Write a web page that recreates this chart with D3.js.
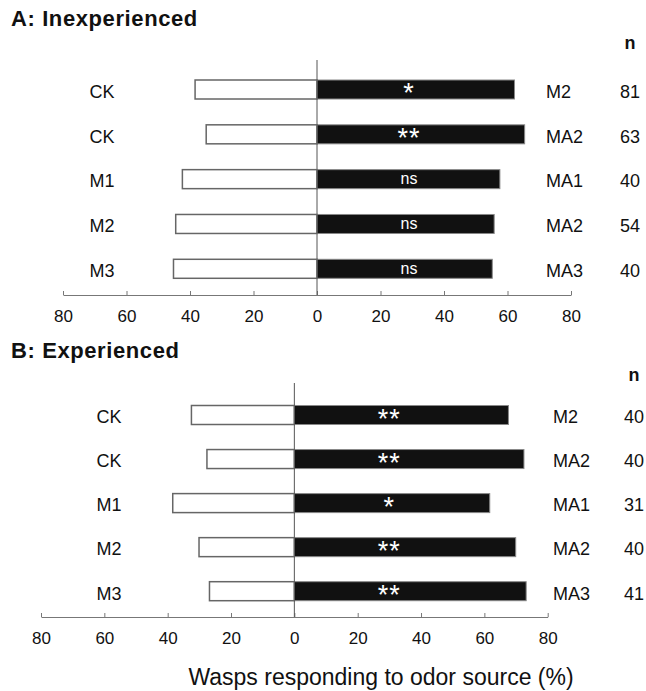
<!DOCTYPE html>
<html>
<head>
<meta charset="utf-8">
<script src="https://cdn.jsdelivr.net/npm/d3@7"></script>
<style>
  body { margin: 0; background: #fff; }
  text { font-family: "Liberation Sans", Arial, sans-serif; fill: #111; }
</style>
</head>
<body>
<script>
// Data (percent of wasps choosing each odor source)
const ticks = [-80, -60, -40, -20, 0, 20, 40, 60, 80];

const leftLabelsA = ['CK', 'CK', 'M1', 'M2', 'M3'];
const rightLabelsA = ['M2', 'MA2', 'MA1', 'MA2', 'MA3'];
const controlA = [38.4, 34.9, 42.4, 44.5, 45.2];
const treatA = [62.2, 65.4, 57.6, 55.8, 55.2];
const signifA = ['*', '**', 'ns', 'ns', 'ns'];
const nA = [81, 63, 40, 54, 40];

const leftLabelsB = ['CK', 'CK', 'M1', 'M2', 'M3'];
const rightLabelsB = ['M2', 'MA2', 'MA1', 'MA2', 'MA3'];
const controlB = [32.5, 27.6, 38.4, 30.1, 26.8];
const treatB = [67.6, 72.5, 61.7, 69.9, 73.2];
const signifB = ['**', '**', '*', '**', '**'];
const nB = [40, 40, 31, 40, 41];

const width = 646, height = 691;
const barHeight = 19;

const svg = d3.select('body').append('svg')
  .attr('width', width)
  .attr('height', height);

const panels = [
  {
    title: 'A: Inexperienced', titleY: 18,
    left: leftLabelsA, right: rightLabelsA, control: controlA, treat: treatA,
    signif: signifA, n: nA,
    x0: 63, x1: 571, rowTop: 89.5, rowBottom: 268.8, zeroTop: 60, axisY: 295,
    leftX: 102, rightX: 546, nX: 630, nHeadY: 43, signifValue: 29
  },
  {
    title: 'B: Experienced', titleY: 350,
    left: leftLabelsB, right: rightLabelsB, control: controlB, treat: treatB,
    signif: signifB, n: nB,
    x0: 41, x1: 547.7, rowTop: 415, rowBottom: 591.2, zeroTop: 383, axisY: 617,
    leftX: 109, rightX: 553, nX: 634, nHeadY: 375, signifValue: 30
  }
];

panels.forEach(drawPanel);

// Shared axis title
svg.append('text')
  .attr('x', 381)
  .attr('y', 677)
  .attr('dy', '0.35em')
  .attr('text-anchor', 'middle')
  .style('font-size', '23px')
  .text('Wasps responding to odor source (%)');

function drawPanel(p) {
  const x = d3.scaleLinear().domain([-80, 80]).range([p.x0, p.x1]);
  const y = d3.scalePoint()
    .domain(d3.range(p.control.length))
    .range([p.rowTop, p.rowBottom]);

  const g = svg.append('g');

  // Panel title
  g.append('text')
    .attr('x', 11)
    .attr('y', p.titleY)
    .attr('dy', '0.35em')
    .style('font-size', '22px')
    .style('letter-spacing', '0.6px')
    .style('font-weight', 'bold')
    .text(p.title);

  // "n" header
  g.append('text')
    .attr('x', p.nX)
    .attr('y', p.nHeadY)
    .attr('dy', '0.35em')
    .attr('text-anchor', 'middle')
    .style('font-size', '18px')
    .style('font-weight', 'bold')
    .text('n');

  // Axis along the bottom, ticks pointing up
  const axis = d3.axisBottom(x)
    .tickValues(ticks)
    .tickFormat(d => Math.abs(d))
    .tickSizeInner(-4)
    .tickSizeOuter(0)
    .tickPadding(15);

  const ax = g.append('g')
    .attr('transform', `translate(0, ${p.axisY})`)
    .call(axis);
  ax.select('.domain').attr('stroke', '#777');
  ax.selectAll('.tick line').attr('stroke', '#777');
  ax.selectAll('.tick text')
    .style('font-size', '17px')
    .attr('fill', '#111');

  // Control (white) bars to the left
  g.selectAll('.ctrl')
    .data(p.control)
    .enter()
    .append('rect')
    .attr('class', 'ctrl')
    .attr('x', d => x(-d))
    .attr('y', (d, i) => y(i) - barHeight / 2)
    .attr('width', d => x(0) - x(-d))
    .attr('height', barHeight)
    .attr('fill', '#fff')
    .attr('stroke', '#666')
    .attr('stroke-width', 1.5);

  // Treatment (black) bars to the right
  g.selectAll('.treat')
    .data(p.treat)
    .enter()
    .append('rect')
    .attr('class', 'treat')
    .attr('x', x(0))
    .attr('y', (d, i) => y(i) - barHeight / 2)
    .attr('width', d => x(d) - x(0))
    .attr('height', barHeight)
    .attr('fill', '#111')
    .attr('stroke', '#888')
    .attr('stroke-width', 1);

  // Zero line
  g.append('line')
    .attr('x1', x(0)).attr('x2', x(0))
    .attr('y1', p.zeroTop).attr('y2', p.axisY)
    .attr('stroke', '#555')
    .attr('stroke-width', 1);

  // Significance marks inside the black bars
  g.selectAll('.sig')
    .data(p.signif)
    .enter()
    .append('text')
    .attr('class', 'sig')
    .attr('x', x(p.signifValue))
    .attr('y', (d, i) => y(i))
    .attr('dy', d => d === 'ns' ? '0.3em' : '0.48em')
    .attr('text-anchor', 'middle')
    .style('font-size', d => d === 'ns' ? '16px' : '27px')
    .style('letter-spacing', d => d === 'ns' ? '0px' : '1px')
    .style('fill', '#fff')
    .text(d => d);

  // Row labels
  g.selectAll('.lab-left')
    .data(p.left)
    .enter()
    .append('text')
    .attr('x', p.leftX)
    .attr('y', (d, i) => y(i) + 2)
    .attr('dy', '0.35em')
    .attr('text-anchor', 'middle')
    .style('font-size', '18px')
    .text(d => d);

  g.selectAll('.lab-right')
    .data(p.right)
    .enter()
    .append('text')
    .attr('x', p.rightX)
    .attr('y', (d, i) => y(i) + 2)
    .attr('dy', '0.35em')
    .style('font-size', '18px')
    .text(d => d);

  g.selectAll('.lab-n')
    .data(p.n)
    .enter()
    .append('text')
    .attr('x', p.nX)
    .attr('y', (d, i) => y(i) + 2)
    .attr('dy', '0.35em')
    .attr('text-anchor', 'middle')
    .style('font-size', '18px')
    .text(d => d);
}
</script>
</body>
</html>
